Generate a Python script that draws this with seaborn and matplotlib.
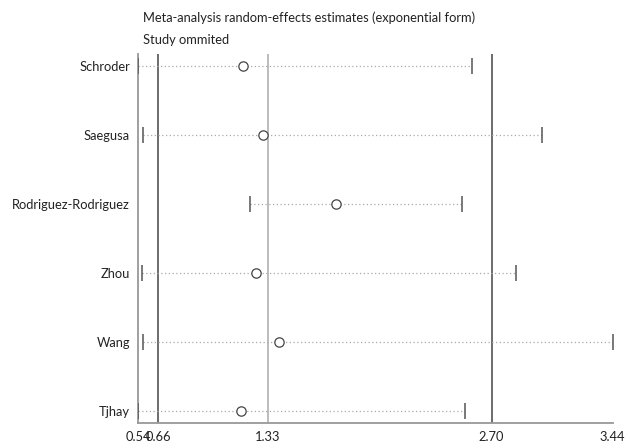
import matplotlib
matplotlib.use("Agg")
import matplotlib.pyplot as plt
import seaborn as sns
import pandas as pd

studies = ["Schroder", "Saegusa", "Rodriguez-Rodriguez", "Zhou", "Wang", "Tjhay"]
estimate = [1.18, 1.30, 1.75, 1.26, 1.40, 1.17]
lower = [0.54, 0.57, 1.22, 0.56, 0.57, 0.54]
upper = [2.58, 3.01, 2.52, 2.85, 3.44, 2.54]
ref_lines = [0.66, 1.33, 2.70]
ref_colors = ["#444444", "#aaaaaa", "#444444"]
xticks = [0.54, 0.66, 1.33, 2.70, 3.44]
xtick_labels = ["0.54", "0.66", "1.33", "2.70", "3.44"]
title_lines = ["Meta-analysis random-effects estimates (exponential form)", "Study ommited"]

sns.set_theme(style="white")
plt.rcParams['font.family'] = ['Lato', 'DejaVu Sans']

df = pd.DataFrame({"study": studies, "estimate": estimate, "lower": lower, "upper": upper})
df["pos"] = range(len(df))

fig = plt.figure(figsize=(6.30, 4.48), dpi=100)
ax = fig.add_axes([138.3 / 630, 1 - 422.7 / 448, (612.7 - 138.3) / 630, (422.7 - 54) / 448])

for x, c in zip(ref_lines, ref_colors):
    ax.axvline(x, color=c, lw=1.1, zorder=1)

ax.hlines(df["pos"], df["lower"], df["upper"], colors="#aaaaaa", linestyles=(0, (1, 2)), lw=0.9, zorder=2)
ax.plot(df["lower"], df["pos"], ls="none", marker="|", ms=11, mew=1.1, color="#555555", zorder=3)
ax.plot(df["upper"], df["pos"], ls="none", marker="|", ms=11, mew=1.1, color="#555555", zorder=3)
sns.scatterplot(data=df, x="estimate", y="pos", ax=ax, marker="o", s=45,
                facecolor="white", edgecolor="#444444", linewidth=0.9, zorder=4, legend=False)

ax.set_xlim(0.54, 3.44)
ax.set_ylim(len(df) - 1 + 0.174, -0.174)
ax.set_xticks(xticks)
ax.set_xticklabels(xtick_labels)
ax.set_yticks(df["pos"])
ax.set_yticklabels(studies)
ax.set_xlabel("")
ax.set_ylabel("")
ax.tick_params(axis="x", length=0, pad=6, labelsize=9.3, colors="#222222")
ax.tick_params(axis="y", length=0, pad=6, labelsize=9.3, colors="#222222")
ax.set_xticks([0.54, 3.44], minor=True)
ax.tick_params(axis="x", which="minor", length=4, width=1.2, color="#999999", bottom=True)

for s in ["top", "right"]:
    ax.spines[s].set_visible(False)
for s in ["left", "bottom"]:
    ax.spines[s].set_color("#999999")
    ax.spines[s].set_linewidth(1.3)

fig.text(143 / 630, 1 - 22 / 448, title_lines[0], fontsize=9.3, va="baseline", ha="left", color="#222222")
fig.text(143 / 630, 1 - 44 / 448, title_lines[1], fontsize=9.3, va="baseline", ha="left", color="#222222")

fig.savefig("out.png", dpi=100)
